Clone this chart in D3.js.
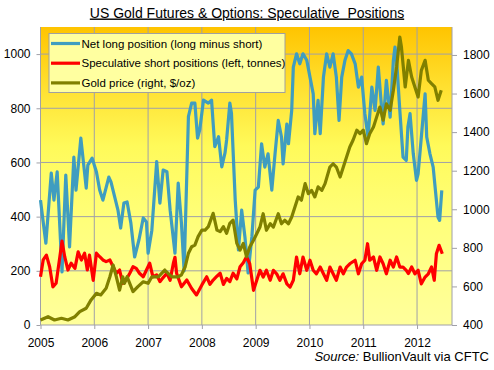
<!DOCTYPE html>
<html>
<head>
<meta charset="utf-8">
<script src="https://cdn.jsdelivr.net/npm/d3@7"></script>
<style>
  body { margin: 0; background: #fff; }
  svg text { font-family: "Liberation Sans", Arial, sans-serif; }
</style>
</head>
<body>
<svg id="chart" width="494" height="370"></svg>
<script>
// weekly CFTC readings, [decimal year, value]
const netLong = [
  [2005.00, 461], [2005.05, 380], [2005.10, 302], [2005.20, 561], [2005.25, 461], [2005.31, 565],
  [2005.40, 196], [2005.47, 553], [2005.54, 288], [2005.62, 620], [2005.66, 498], [2005.75, 690],
  [2005.85, 505], [2005.88, 590], [2005.96, 616], [2006.04, 565], [2006.10, 498], [2006.16, 461],
  [2006.27, 546], [2006.31, 528], [2006.44, 424], [2006.49, 358], [2006.55, 450], [2006.61, 454],
  [2006.68, 376], [2006.75, 251], [2006.83, 314], [2006.91, 395], [2006.97, 380], [2007.00, 265],
  [2007.07, 350], [2007.16, 603], [2007.22, 450], [2007.28, 572], [2007.35, 566], [2007.41, 424],
  [2007.50, 265], [2007.56, 524], [2007.62, 376], [2007.67, 200], [2007.75, 769], [2007.81, 819],
  [2007.87, 819], [2007.92, 690], [2007.96, 720], [2008.03, 830], [2008.12, 819], [2008.18, 830],
  [2008.24, 658], [2008.31, 695], [2008.37, 584], [2008.43, 635], [2008.46, 683], [2008.52, 819],
  [2008.55, 782], [2008.62, 461], [2008.68, 277], [2008.74, 424], [2008.80, 326], [2008.86, 192],
  [2008.93, 326], [2008.99, 498], [2009.05, 509], [2009.11, 669], [2009.17, 583], [2009.23, 632],
  [2009.30, 498], [2009.36, 632], [2009.42, 755], [2009.48, 694], [2009.51, 595], [2009.58, 742],
  [2009.61, 669], [2009.67, 792], [2009.70, 952], [2009.76, 1001], [2009.82, 964], [2009.88, 1001],
  [2009.95, 977], [2010.01, 915], [2010.07, 853], [2010.10, 706], [2010.16, 829], [2010.20, 706],
  [2010.26, 915], [2010.32, 1001], [2010.38, 952], [2010.44, 1001], [2010.50, 915], [2010.55, 755],
  [2010.60, 915], [2010.66, 977], [2010.72, 1013], [2010.78, 1001], [2010.85, 964], [2010.91, 878],
  [2010.97, 915], [2011.03, 780], [2011.09, 694], [2011.16, 878], [2011.22, 792], [2011.28, 952],
  [2011.34, 804], [2011.37, 742], [2011.43, 903], [2011.50, 767], [2011.56, 977], [2011.59, 1026],
  [2011.62, 977], [2011.68, 792], [2011.74, 620], [2011.80, 608], [2011.83, 731], [2011.87, 780],
  [2011.93, 632], [2011.99, 534], [2012.02, 558], [2012.08, 694], [2012.15, 853], [2012.18, 694],
  [2012.24, 632], [2012.30, 583], [2012.33, 521], [2012.39, 398], [2012.42, 386], [2012.46, 497]
];

const shorts = [
  [2005.00, 178], [2005.05, 240], [2005.11, 258], [2005.17, 215], [2005.23, 141], [2005.29, 154],
  [2005.36, 252], [2005.40, 310], [2005.45, 252], [2005.51, 203], [2005.57, 228], [2005.64, 209],
  [2005.70, 270], [2005.76, 240], [2005.82, 265], [2005.87, 203], [2005.91, 258], [2005.98, 165],
  [2006.04, 265], [2006.10, 252], [2006.16, 240], [2006.22, 234], [2006.29, 240], [2006.35, 215],
  [2006.41, 191], [2006.47, 203], [2006.53, 154], [2006.59, 166], [2006.66, 191], [2006.72, 215],
  [2006.78, 209], [2006.84, 191], [2006.91, 178], [2006.97, 203], [2007.03, 228], [2007.09, 178],
  [2007.16, 185], [2007.22, 160], [2007.28, 175], [2007.35, 191], [2007.41, 165], [2007.47, 228],
  [2007.50, 250], [2007.53, 191], [2007.62, 141], [2007.72, 166], [2007.81, 135], [2007.90, 111],
  [2008.00, 148], [2008.09, 178], [2008.15, 150], [2008.21, 166], [2008.28, 180], [2008.34, 191],
  [2008.40, 150], [2008.46, 172], [2008.52, 160], [2008.58, 191], [2008.65, 170], [2008.71, 215],
  [2008.77, 230], [2008.83, 252], [2008.89, 226], [2008.96, 128], [2009.02, 165], [2009.08, 202],
  [2009.14, 177], [2009.20, 202], [2009.27, 165], [2009.33, 202], [2009.39, 189], [2009.45, 165],
  [2009.51, 189], [2009.58, 152], [2009.64, 140], [2009.70, 165], [2009.76, 251], [2009.82, 189],
  [2009.88, 251], [2009.95, 202], [2010.01, 239], [2010.07, 202], [2010.13, 189], [2010.20, 214],
  [2010.26, 189], [2010.32, 165], [2010.38, 214], [2010.44, 189], [2010.50, 165], [2010.57, 214],
  [2010.63, 189], [2010.69, 214], [2010.75, 226], [2010.85, 239], [2010.91, 189], [2010.97, 226],
  [2011.03, 239], [2011.08, 300], [2011.12, 239], [2011.19, 251], [2011.25, 202], [2011.31, 251],
  [2011.37, 226], [2011.43, 189], [2011.50, 239], [2011.56, 214], [2011.62, 251], [2011.68, 214],
  [2011.74, 214], [2011.80, 202], [2011.84, 190], [2011.90, 214], [2011.96, 189], [2012.02, 202],
  [2012.08, 152], [2012.15, 177], [2012.21, 189], [2012.27, 214], [2012.32, 165], [2012.36, 263],
  [2012.41, 294], [2012.47, 263]
];

const goldPrice = [
  [2005.00, 426], [2005.14, 443], [2005.26, 426], [2005.39, 435], [2005.51, 426], [2005.64, 443],
  [2005.73, 469], [2005.85, 487], [2005.94, 530], [2006.04, 564], [2006.12, 556], [2006.22, 590],
  [2006.29, 650], [2006.35, 711], [2006.41, 650], [2006.47, 581], [2006.53, 650], [2006.56, 616],
  [2006.61, 650], [2006.72, 573], [2006.81, 599], [2006.91, 624], [2007.00, 616], [2007.07, 650],
  [2007.19, 650], [2007.31, 685], [2007.44, 650], [2007.56, 650], [2007.62, 660], [2007.69, 702],
  [2007.75, 772], [2007.81, 806], [2007.87, 814], [2007.93, 858], [2008.00, 892], [2008.06, 892],
  [2008.12, 910], [2008.21, 979], [2008.28, 892], [2008.34, 884], [2008.40, 910], [2008.46, 875],
  [2008.52, 927], [2008.58, 944], [2008.65, 823], [2008.71, 789], [2008.77, 823], [2008.83, 754],
  [2008.89, 804], [2008.96, 839], [2009.02, 873], [2009.08, 908], [2009.14, 977], [2009.20, 891],
  [2009.27, 925], [2009.33, 908], [2009.42, 977], [2009.48, 925], [2009.54, 943], [2009.61, 925],
  [2009.67, 960], [2009.73, 1012], [2009.79, 1064], [2009.85, 1047], [2009.92, 1133], [2009.98, 1081],
  [2010.04, 1098], [2010.10, 1064], [2010.16, 1116], [2010.23, 1098], [2010.29, 1133], [2010.38, 1219],
  [2010.44, 1236], [2010.50, 1219], [2010.57, 1167], [2010.63, 1219], [2010.69, 1271], [2010.75, 1323],
  [2010.81, 1358], [2010.88, 1410], [2010.94, 1392], [2011.00, 1410], [2011.06, 1340], [2011.12, 1392],
  [2011.19, 1427], [2011.25, 1479], [2011.31, 1530], [2011.37, 1462], [2011.43, 1547], [2011.50, 1513],
  [2011.56, 1617], [2011.62, 1738], [2011.68, 1893], [2011.71, 1841], [2011.78, 1634], [2011.84, 1772],
  [2011.90, 1686], [2011.96, 1634], [2012.02, 1582], [2012.08, 1720], [2012.15, 1772], [2012.21, 1669],
  [2012.27, 1651], [2012.33, 1634], [2012.39, 1565], [2012.45, 1617]
];

const yearTicks = [2005, 2006, 2007, 2008, 2009, 2010, 2011, 2012];
const leftTicks = [0, 200, 400, 600, 800, 1000];
const rightTicks = [400, 600, 800, 1000, 1200, 1400, 1600, 1800];

const legendItems = [
  { label: "Net long position (long minus short)", color: "#3f9dc0" },
  { label: "Speculative short positions (left, tonnes)", color: "#ff0000" },
  { label: "Gold price (right, $/oz)", color: "#808000" }
];

const PLOT = { left: 40.5, right: 452, top: 27, bottom: 325 };
const GRID = "#a0a0a8";

function drawChart() {
  let svg = d3.select("#chart");

  let x = d3.scaleLinear().domain([2005, 2012.65]).range([PLOT.left, PLOT.right]);
  let yLeft = d3.scaleLinear().domain([0, 1100]).range([PLOT.bottom, PLOT.top]);
  let yRight = d3.scaleLinear().domain([400, 1945]).range([PLOT.bottom, PLOT.top]);

  // plot area gradient
  let grad = svg.append("defs").append("linearGradient")
    .attr("id", "bg").attr("x1", 0).attr("y1", 0).attr("x2", 0).attr("y2", 1);
  grad.append("stop").attr("offset", "0%").attr("stop-color", "#ffc400");
  grad.append("stop").attr("offset", "20%").attr("stop-color", "#ffe030");
  grad.append("stop").attr("offset", "40%").attr("stop-color", "#fffa5a");
  grad.append("stop").attr("offset", "65%").attr("stop-color", "#ffff7a");
  grad.append("stop").attr("offset", "100%").attr("stop-color", "#ffff9c");

  svg.append("rect")
    .attr("x", PLOT.left).attr("y", PLOT.top)
    .attr("width", PLOT.right - PLOT.left).attr("height", PLOT.bottom - PLOT.top)
    .attr("fill", "url(#bg)");

  // gridlines
  svg.append("g").selectAll("line").data(leftTicks.filter(d => d > 0)).enter().append("line")
    .attr("x1", PLOT.left).attr("x2", PLOT.right)
    .attr("y1", d => yLeft(d)).attr("y2", d => yLeft(d))
    .attr("stroke", GRID).attr("stroke-width", 1);
  svg.append("g").selectAll("line").data(yearTicks.slice(1)).enter().append("line")
    .attr("x1", d => x(d)).attr("x2", d => x(d))
    .attr("y1", PLOT.top).attr("y2", PLOT.bottom)
    .attr("stroke", GRID).attr("stroke-width", 1);

  // axes
  let fmt = d3.format("d");
  let xAxis = svg.append("g")
    .attr("transform", "translate(0," + PLOT.bottom + ")")
    .call(d3.axisBottom(x).tickValues(yearTicks).tickFormat(fmt).tickSize(4).tickPadding(9));
  let leftAxis = svg.append("g")
    .attr("transform", "translate(" + PLOT.left + ",0)")
    .call(d3.axisLeft(yLeft).tickValues(leftTicks).tickFormat(fmt).tickSize(4).tickPadding(6));
  let rightAxis = svg.append("g")
    .attr("transform", "translate(" + PLOT.right + ",0)")
    .call(d3.axisRight(yRight).tickValues(rightTicks).tickFormat(fmt).tickSize(5).tickPadding(6));

  for (let ax of [xAxis, leftAxis, rightAxis]) {
    ax.select(".domain").remove();
    ax.selectAll(".tick line").attr("stroke", GRID);
    ax.selectAll("text").attr("font-size", 12).attr("fill", "#000")
      .style("font-family", '"Liberation Sans", Arial, sans-serif');
  }
  // plain axis lines (no end caps)
  svg.append("line").attr("x1", PLOT.left).attr("x2", PLOT.right)
    .attr("y1", PLOT.bottom).attr("y2", PLOT.bottom).attr("stroke", GRID);
  svg.append("line").attr("x1", PLOT.left).attr("x2", PLOT.left)
    .attr("y1", PLOT.top).attr("y2", PLOT.bottom).attr("stroke", GRID);
  svg.append("line").attr("x1", PLOT.right).attr("x2", PLOT.right)
    .attr("y1", PLOT.top).attr("y2", PLOT.bottom).attr("stroke", GRID);

  // series
  let lineLeft = d3.line().x(d => x(d[0])).y(d => yLeft(d[1]));
  let lineRight = d3.line().x(d => x(d[0])).y(d => yRight(d[1]));

  svg.append("path").datum(netLong).attr("d", lineLeft)
    .attr("fill", "none").attr("stroke", legendItems[0].color)
    .attr("stroke-width", 3.2).attr("stroke-linejoin", "round");
  svg.append("path").datum(shorts).attr("d", lineLeft)
    .attr("fill", "none").attr("stroke", legendItems[1].color)
    .attr("stroke-width", 3.2).attr("stroke-linejoin", "round");
  svg.append("path").datum(goldPrice).attr("d", lineRight)
    .attr("fill", "none").attr("stroke", legendItems[2].color)
    .attr("stroke-width", 3.2).attr("stroke-linejoin", "round");

  // legend
  let legend = svg.append("g");
  legend.append("rect")
    .attr("x", 49).attr("y", 33.5).attr("width", 236).attr("height", 59)
    .attr("fill", "#ffffa0").attr("stroke", "#a0a0a0").attr("stroke-width", 1);
  let rows = legend.selectAll("g.item").data(legendItems).enter().append("g")
    .attr("class", "item")
    .attr("transform", (d, i) => "translate(0," + (43.5 + i * 19.7) + ")");
  rows.append("line").attr("x1", 51).attr("x2", 80).attr("y1", 0).attr("y2", 0)
    .attr("stroke", d => d.color).attr("stroke-width", 3.2);
  rows.append("text").attr("x", 81.5).attr("y", 4)
    .attr("font-size", 11.5).attr("fill", "#000").text(d => d.label);

  // title
  svg.append("text")
    .attr("x", 247).attr("y", 17.5).attr("text-anchor", "middle")
    .attr("font-size", 14).attr("fill", "#000")
    .style("white-space", "pre").style("text-decoration", "underline")
    .text("US Gold Futures & Options: Speculative  Positions");

  // source
  let src = svg.append("text")
    .attr("x", 489).attr("y", 361).attr("text-anchor", "end")
    .attr("font-size", 13).attr("fill", "#000");
  src.append("tspan").attr("font-style", "italic").text("Source:");
  src.append("tspan").text(" BullionVault via CFTC");
}

drawChart();
</script>
</body>
</html>
